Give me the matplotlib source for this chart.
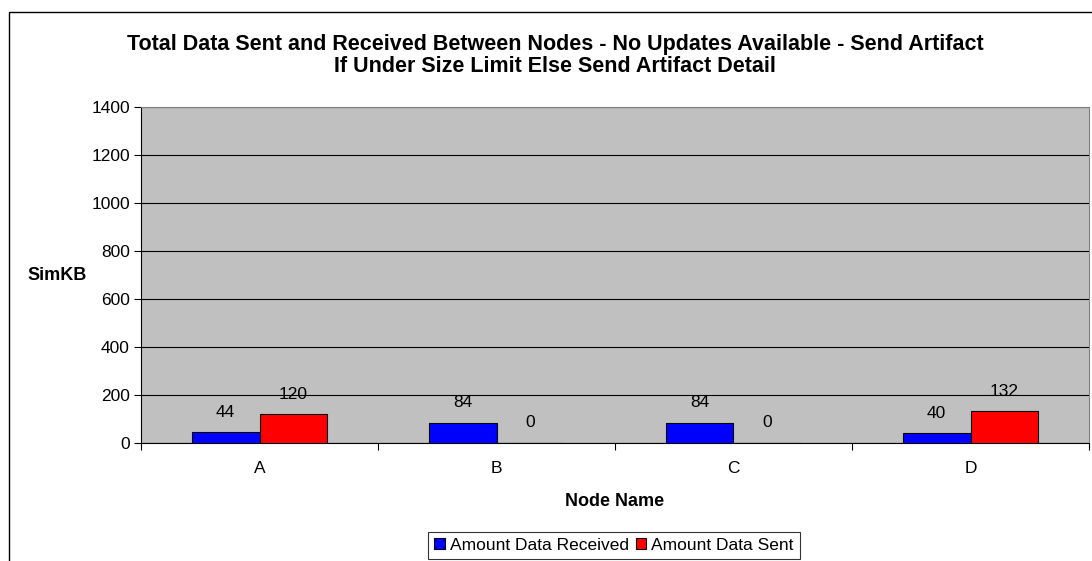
import numpy as np
import matplotlib
matplotlib.use("Agg")
from matplotlib import pyplot as plt
from matplotlib.patches import Rectangle

plt.rcParams['font.family'] = ['Liberation Sans', 'DejaVu Sans']

nodes = ["A", "B", "C", "D"]
received = [44, 84, 84, 40]
sent = [120, 0, 0, 132]
yticks = [0, 200, 400, 600, 800, 1000, 1200, 1400]
title_lines = ["Total Data Sent and Received Between Nodes - No Updates Available - Send Artifact",
               "If Under Size Limit Else Send Artifact Detail"]

W, H = 1092, 561
fs = 12.5
fig = plt.figure(figsize=(W / 100, H / 100), dpi=100)

# chart border (cut off on the right and bottom in the original)
fig.patches.append(Rectangle((9 / W, -0.2), 2, 1 - 12 / H + 0.2, transform=fig.transFigure,
                             fill=False, edgecolor='black', lw=1.0))

ax = fig.add_axes([141 / W, 1 - 443 / H, (1089 - 141) / W, (443 - 107) / H])
ax.set_facecolor('#c0c0c0')

x = np.arange(len(nodes))
bw = 0.285
b1 = ax.bar(x - bw / 2, received, bw, color='#0000ff', edgecolor='black', lw=0.8,
            label='Amount Data Received', zorder=3)
b2 = ax.bar(x + bw / 2, sent, bw, color='#ff0000', edgecolor='black', lw=0.8,
            label='Amount Data Sent', zorder=3)

for bars, vals in ((b1, received), (b2, sent)):
    for rect, v in zip(bars, vals):
        ax.annotate(str(v), (rect.get_x() + rect.get_width() / 2, v),
                    xytext=(0, 14.5), textcoords='offset points',
                    ha='center', va='center', fontsize=fs, zorder=4)

ax.set_xlim(-0.5, len(nodes) - 0.5)
ax.set_ylim(0, 1400)
ax.set_yticks(yticks)
ax.yaxis.grid(True, color='black', lw=0.8, zorder=1)
ax.set_axisbelow(True)

ax.set_xticks(x)
ax.set_xticklabels(nodes)
ax.set_xticks(np.arange(len(nodes) + 1) - 0.5, minor=True)
ax.tick_params(axis='x', which='major', length=0, pad=13, labelsize=fs)
ax.tick_params(axis='x', which='minor', length=5, direction='out', width=0.8)
ax.tick_params(axis='y', length=5, direction='out', width=0.8, labelsize=fs, pad=3)

for side in ('top', 'right'):
    ax.spines[side].set_color('#808080')
ax.spines['left'].set_color('black')
ax.spines['bottom'].set_color('black')

ax.set_xlabel('Node Name', fontsize=13, fontweight='bold', labelpad=12)
fig.text(57 / W, 1 - 276 / H, 'SimKB', fontsize=13, fontweight='bold',
         ha='center', va='center')

for line, base in zip(title_lines, (50, 72)):
    fig.text(555 / W, 1 - base / H, line, ha='center', va='baseline',
             fontsize=15.5, fontweight='bold')

leg = fig.legend(handles=[b1, b2], loc='upper center', bbox_to_anchor=(614 / W, 1 - 532 / H),
                 ncol=2, fontsize=fs, frameon=True, fancybox=False, edgecolor='black',
                 handlelength=0.6, handleheight=0.6, handletextpad=0.3, columnspacing=0.4,
                 borderpad=0.35, borderaxespad=0)
leg.get_frame().set_linewidth(0.8)

fig.savefig('out.png', dpi=100)
